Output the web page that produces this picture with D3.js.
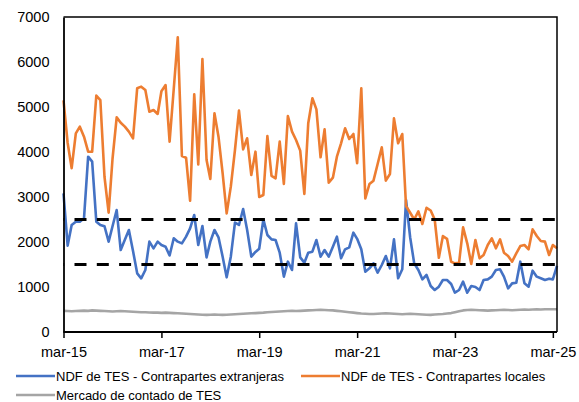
<!DOCTYPE html>
<html>
<head>
<meta charset="utf-8">
<script src="https://cdn.jsdelivr.net/npm/d3@7"></script>
<style>
  html, body { margin: 0; padding: 0; background: #fff; }
  svg { display: block; font-family: "Liberation Sans", Arial, sans-serif; }
</style>
</head>
<body>
<svg id="chart" width="579" height="402"></svg>
<script>
// ---- Data (monthly, mar-15 .. abr-25) ----
const startMonth = "2015-03";
const monthCount = 122;

const seriesNames = [
  "NDF de TES - Contrapartes extranjeras",
  "NDF de TES - Contrapartes locales",
  "Mercado de contado de TES"
];

const extranjeras = [
  3081, 1920, 2378, 2452, 2452, 2526, 3896, 3785, 2452, 2378, 2350, 2008, 2350, 2711, 1822, 2050, 2267, 1800, 1304, 1193,
  1378, 2008, 1859, 2008, 1933, 1896, 1700, 2082, 2008, 1970, 2119, 2304, 2600, 1933,
  2356, 1659, 2008, 2267, 2104, 1674, 1215, 1674, 2430, 2378, 2733, 2267, 1674, 1780, 1850,
  2504, 2156, 2059, 2045, 1763, 1230, 1563, 1378, 2415, 1659, 1541, 1763, 1785, 2045, 1674, 1822, 1674, 1896, 2119, 1637,
  1837, 1882, 2207, 2070,
  1837, 1341, 1415, 1526, 1318, 1489, 1689, 1415, 2059, 1193, 1393, 2933, 2100, 1526, 1378, 1170, 1267, 1022, 933, 1007,
  1156, 1156, 1067, 874, 933, 1119, 874, 1022, 1000, 933, 1156, 1170, 1230, 1378, 1393, 1230, 970, 1081, 1096, 1563,
  1081, 1007, 1363, 1230, 1193, 1156, 1185, 1170, 1467
];

const locales = [
  5150, 4200, 3640, 4415, 4563, 4340, 4007, 4007, 5252, 5155, 3450, 2652, 3850, 4770, 4650, 4563, 4452, 4304, 5415, 5452,
  5378, 4896, 4933, 4845, 5350,
  5489, 4230, 5400, 6548, 3911, 3874, 2918, 5281, 3726, 6067, 3822, 3400, 4859, 4341, 3526, 2637, 3230, 4044, 4919, 4059,
  4304, 3489, 4007,
  3000, 3044, 4355, 3467, 3415, 4230, 3289, 4800, 4452, 4267, 4030, 3067, 4637, 5193, 4948, 3882, 4504, 3318, 3430, 3896,
  4193, 4526, 4289, 4400,
  3750, 5415, 2970, 3289, 3363, 3733, 4104, 3363, 3511, 4748, 4193, 4400,
  2800, 2650, 2500, 2680, 2400, 2760, 2700, 2500, 1650, 2130, 2070,
  1560, 1526, 1540, 2326, 1970, 1511, 2045, 1637, 1711, 1933, 2081, 1860, 2059, 1763, 1689, 1563, 1748, 1911, 1933, 1837,
  2281, 2133, 2022, 2008, 1711, 1933, 1860
];

const contado = [
  470, 465, 460, 465, 470, 475, 470, 480, 475, 470, 465,
  460, 455, 460, 465, 460, 455, 450, 445, 440, 440,
  435, 430, 430, 425, 430, 425, 420, 415, 410,
  405, 400, 395, 390, 385, 380, 385, 390, 385, 380, 385,
  390, 395, 400, 405, 410, 415, 420, 425, 430, 440,
  445, 450, 455, 460, 465, 470, 465, 470, 475, 480,
  485, 490, 495, 490, 485, 480, 470, 460, 450, 440,
  430, 420, 410, 405, 400, 400, 405, 410, 415, 410,
  405, 400, 395, 400, 405, 400, 395, 390, 385, 380,
  390, 395, 400, 410, 420, 440, 460, 480, 490, 495,
  490, 485, 480, 475, 480, 485, 490, 495, 490, 485,
  490, 495, 500, 495, 500, 505, 500, 505, 505, 505, 505
];

const thresholds = [2500, 1500];
const yTicks = [0, 1000, 2000, 3000, 4000, 5000, 6000, 7000];
const xTickLabels = ["mar-15", "mar-17", "mar-19", "mar-21", "mar-23", "mar-25"];

const colors = ["#4472C4", "#ED7D31", "#A5A5A5"];

// ---- Layout ----
const svg = d3.select("#chart");
const plotL = 63.5, plotR = 557, plotT = 17, plotB = 332;

const parseM = d3.timeParse("%Y-%m");
const months = d3.range(monthCount).map(i => d3.timeMonth.offset(parseM(startMonth), i));

const x = d3.scaleTime().domain([months[0], months[months.length - 1]]).range([plotL, plotR]);
const y = d3.scaleLinear().domain([0, 7000]).range([plotB, plotT]);

const seriesData = [extranjeras, locales, contado];

const line = d3.line()
  .x((d, i) => x(months[i]))
  .y(d => y(d));

// series
seriesData.forEach((vals, s) => {
  svg.append("path")
    .datum(vals)
    .attr("fill", "none")
    .attr("stroke", colors[s])
    .attr("stroke-width", 2.6)
    .attr("stroke-linejoin", "round")
    .attr("d", line);
});

// threshold dashed lines
thresholds.forEach(t => {
  svg.append("line")
    .attr("x1", plotL).attr("x2", plotR)
    .attr("y1", y(t)).attr("y2", y(t))
    .attr("stroke", "#000")
    .attr("stroke-width", 2.8)
    .attr("stroke-dasharray", "12,10.3")
    .attr("stroke-dashoffset", -11);
});

// plot border (top/right)
svg.append("path")
  .attr("d", `M${plotL},${plotT}H${plotR}V${plotB}`)
  .attr("fill", "none").attr("stroke", "#000").attr("stroke-width", 1.5);

// y axis
const yAxis = svg.append("g")
  .attr("transform", `translate(${plotL},0)`)
  .call(d3.axisLeft(y).tickValues(yTicks).tickSize(0).tickPadding(14).tickFormat(d3.format("d")));
yAxis.select(".domain").attr("stroke", "#000").attr("stroke-width", 1.8);
yAxis.selectAll("text").attr("font-size", 14.5).attr("fill", "#000")
  .attr("font-family", "Liberation Sans, Arial, sans-serif");

// x axis
const tickDates = xTickLabels.map((lab, i) => months[i * 24]);
const xAxis = svg.append("g")
  .attr("transform", `translate(0,${plotB})`)
  .call(d3.axisBottom(x).tickValues(tickDates).tickSize(6).tickPadding(9)
    .tickFormat((d, i) => xTickLabels[i]));
xAxis.select(".domain").attr("stroke", "#000").attr("stroke-width", 1.8)
  .attr("d", `M${plotL},0H${plotR}`);
xAxis.selectAll(".tick line").attr("stroke", "#000").attr("stroke-width", 1.5);
xAxis.selectAll("text").attr("font-size", 14.5).attr("fill", "#000")
  .attr("font-family", "Liberation Sans, Arial, sans-serif");

// legend
const legendItems = [
  { x: 16, y: 376, s: 0 },
  { x: 301, y: 376, s: 1 },
  { x: 16, y: 395, s: 2 }
];
const lg = svg.append("g");
legendItems.forEach(it => {
  lg.append("line")
    .attr("x1", it.x).attr("x2", it.x + 39)
    .attr("y1", it.y).attr("y2", it.y)
    .attr("stroke", colors[it.s]).attr("stroke-width", 2.6);
  lg.append("text")
    .attr("x", it.x + 40).attr("y", it.y)
    .attr("dy", "0.35em")
    .attr("font-size", 13)
    .attr("fill", "#000")
    .text(seriesNames[it.s]);
});
</script>
</body>
</html>
